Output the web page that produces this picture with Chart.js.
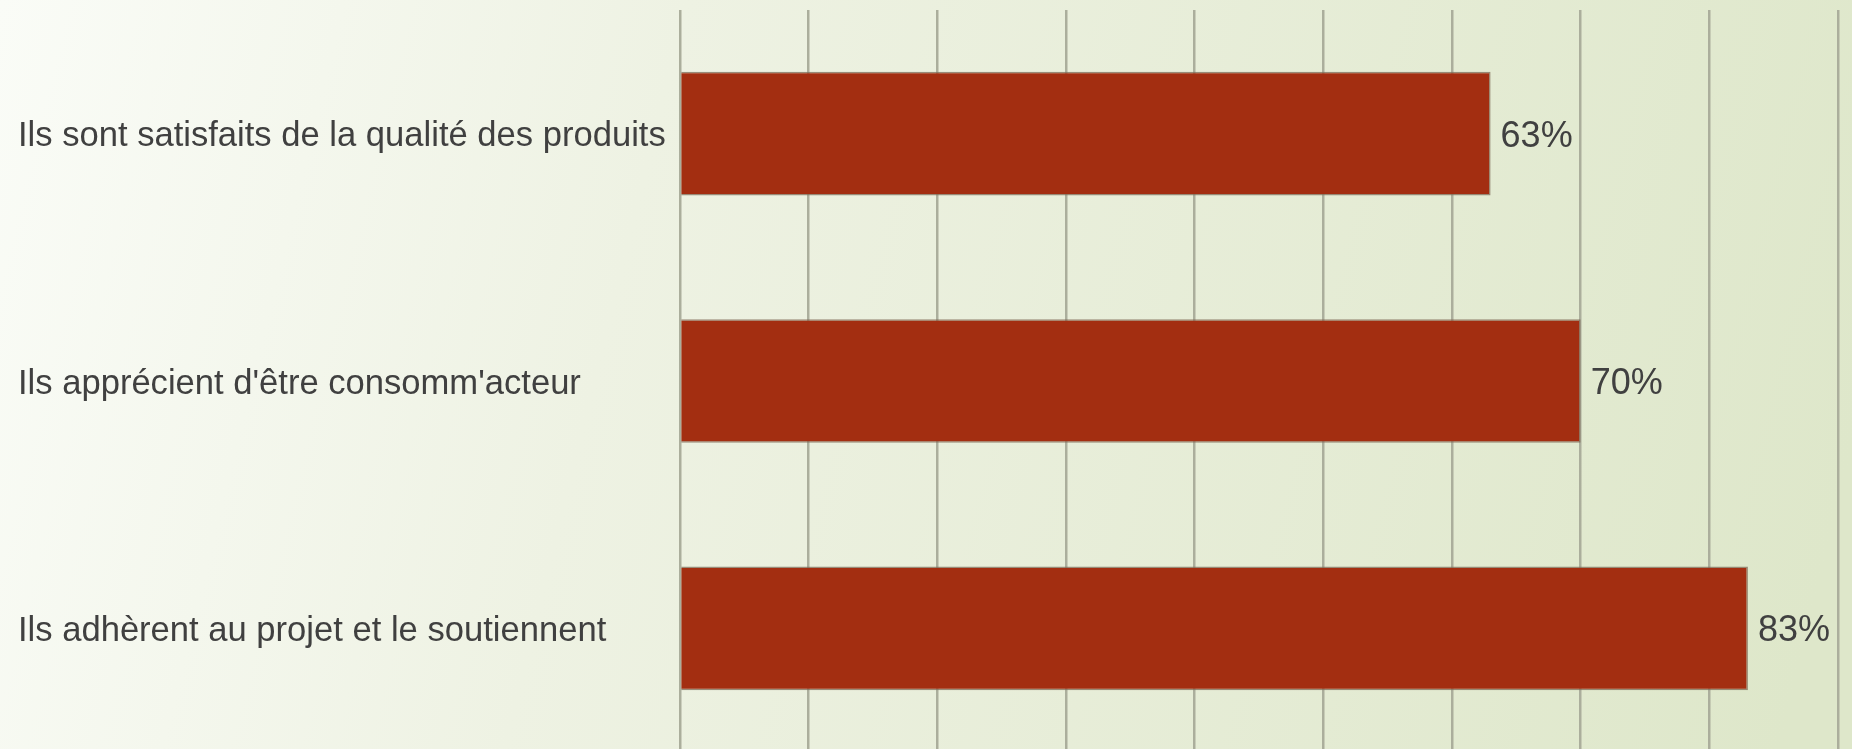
<!DOCTYPE html>
<html>
<head>
<meta charset="utf-8">
<script src="https://cdn.jsdelivr.net/npm/chart.js@4/dist/chart.umd.min.js"></script>
<style>
    html, body { margin: 0; padding: 0; overflow: hidden; }
    #wrap { width: 1852px; height: 752px; position: relative; }
</style>
</head>
<body>
<div id="wrap"><canvas id="satisfactionChart"></canvas></div>
<script>
const categories = [
    'Ils sont satisfaits de la qualité des produits',
    "Ils apprécient d'être consomm'acteur",
    'Ils adhèrent au projet et le soutiennent'
];
const values = [63, 70, 83];
const axisMin = 0;
const axisMax = 90;
const axisStep = 10;

// gradient background, light on the left, pale green on the right
const backgroundPlugin = {
    id: 'bgGradient',
    beforeDraw(chart) {
        const { ctx, width, height } = chart;
        const g = ctx.createLinearGradient(0, 0, width, height * 0.6);
        g.addColorStop(0, '#fafcf7');
        g.addColorStop(0.35, '#eef2e3');
        g.addColorStop(1, '#dee7ca');
        ctx.save();
        ctx.fillStyle = g;
        ctx.fillRect(0, 0, width, height);
        ctx.restore();
    }
};

// percent labels to the right of every bar
const valueLabels = {
    id: 'valueLabels',
    afterDatasetsDraw(chart) {
        const { ctx } = chart;
        const meta = chart.getDatasetMeta(0);
        ctx.save();
        ctx.font = '36px "Liberation Sans", Arial, sans-serif';
        ctx.fillStyle = '#404040';
        ctx.textAlign = 'left';
        ctx.textBaseline = 'middle';
        meta.data.forEach((bar, i) => {
            ctx.fillText(values[i] + '%', bar.x + 10, bar.y + 3);
        });
        ctx.restore();
    }
};

const ctx = document.getElementById('satisfactionChart');

window.satisfactionChartInstance = new Chart(ctx, {
    type: 'bar',
    data: {
        labels: categories,
        datasets: [{
            data: values,
            backgroundColor: '#a32e11',
            borderColor: 'rgba(125, 105, 85, 0.75)',
            borderWidth: 1.5,
            barPercentage: 0.5,
            categoryPercentage: 1.0
        }]
    },
    options: {
        indexAxis: 'y',
        responsive: true,
        maintainAspectRatio: false,
        animation: false,
        layout: {
            padding: { top: 10, right: 14, bottom: 0, left: 18 }
        },
        plugins: {
            legend: { display: false },
            tooltip: { enabled: false }
        },
        scales: {
            x: {
                min: axisMin,
                max: axisMax,
                ticks: { display: false, stepSize: axisStep },
                grid: {
                    color: '#abae9c',
                    lineWidth: 2.5,
                    drawTicks: false
                },
                border: { display: false },
                afterFit(scale) {
                    scale.height = 0;
                    scale.paddingLeft = 0;
                    scale.paddingRight = 0;
                }
            },
            y: {
                grid: { display: false },
                border: { display: false },
                ticks: {
                    crossAlign: 'far',
                    padding: 0,
                    labelOffset: 3,
                    color: '#404040',
                    font: { family: '"Liberation Sans", Arial, sans-serif', size: 34.6 }
                },
                afterFit(scale) {
                    scale.width = 662;
                    scale.paddingTop = 0;
                    scale.paddingBottom = 0;
                }
            }
        }
    },
    plugins: [backgroundPlugin, valueLabels]
});
</script>
</body>
</html>
